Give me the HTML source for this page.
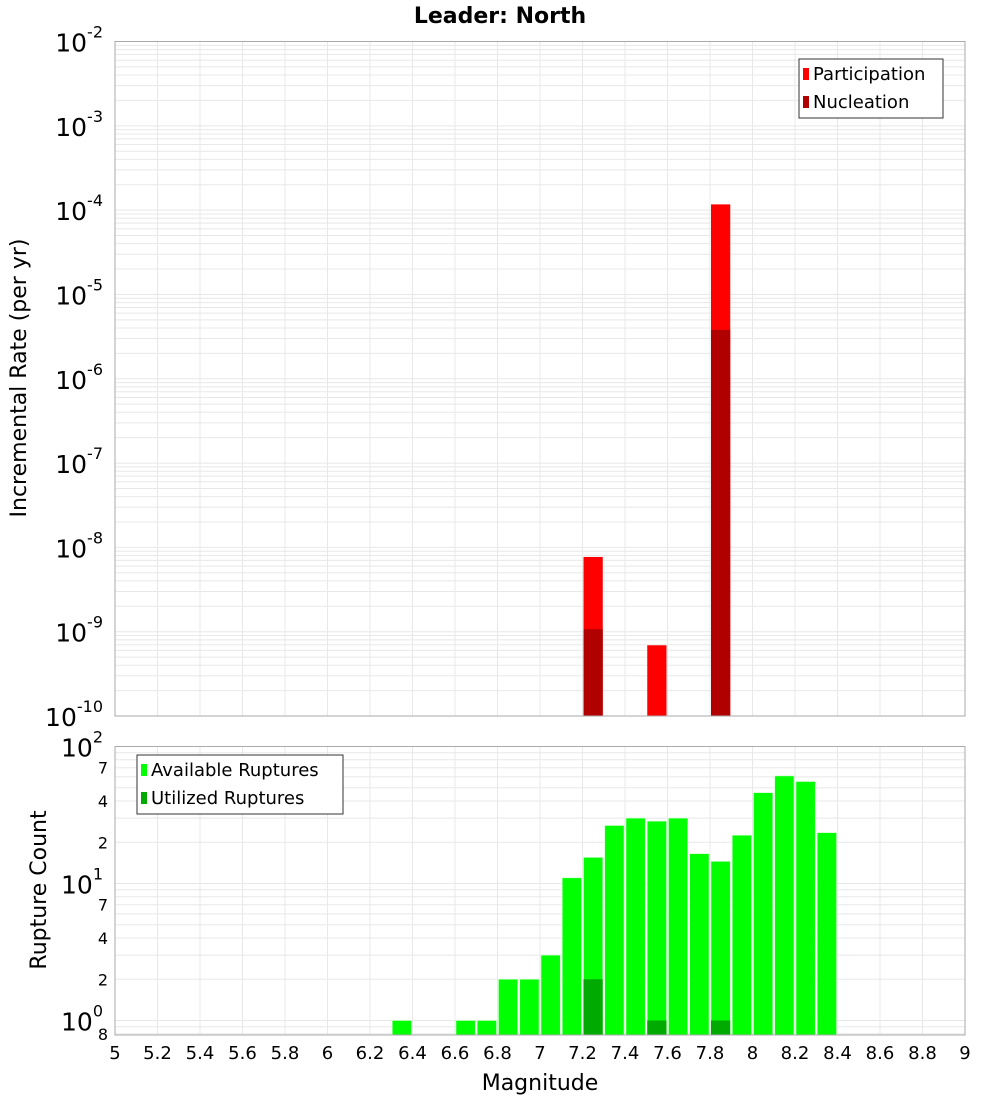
<!DOCTYPE html>
<html><head><meta charset="utf-8"><style>
body{margin:0;background:#fff;}
svg{display:block;font-family:"DejaVu Sans","Liberation Sans",sans-serif;}
</style></head><body>
<svg id="chart" width="1000" height="1100" viewBox="0 0 1000 1100" xmlns="http://www.w3.org/2000/svg">
<text x="500" y="23" text-anchor="middle" font-size="22" font-weight="bold">Leader: North</text>
<g id="topPlot"></g><g id="botPlot"></g>
<text x="540" y="1090" text-anchor="middle" font-size="22">Magnitude</text>
<text transform="translate(26,378) rotate(-90)" text-anchor="middle" font-size="22">Incremental Rate (per yr)</text>
<text transform="translate(46,890) rotate(-90)" text-anchor="middle" font-size="22">Rupture Count</text>
</svg>
<script>
const binStarts=[6.3,6.6,6.7,6.8,6.9,7.0,7.1,7.2,7.3,7.4,7.5,7.6,7.7,7.8,7.9,8.0,8.1,8.2,8.3];
const availCounts=[1,1,1,2,2,3,11,15.5,26.5,30,28.5,30,16.5,14.5,22.5,46,61,55.5,23.5];
const usedStarts=[7.2,7.5,7.8];
const usedCounts=[2,1,1];
const rateStarts=[7.2,7.5,7.8];
const participation=[7.7e-9,6.9e-10,1.17e-4];
const nucleationStarts=[7.2,7.8];
const nucleation=[1.07e-9,3.8e-6];
const xTicks=[5,5.2,5.4,5.6,5.8,6,6.2,6.4,6.6,6.8,7,7.2,7.4,7.6,7.8,8,8.2,8.4,8.6,8.8,9];

const NS="http://www.w3.org/2000/svg";
const X0=115,X1=965;
const x=v=>X0+(v-5)/4*(X1-X0);
const T0=41.5,T1=716;
const yT=v=>T0+(-2-Math.log10(v))/8*(T1-T0);
const B0=746.5,B1=1035;
const BPD=137;
const yB=v=>B0+(2-Math.log10(v))*BPD;
function el(p,tag,a,txt){const e=document.createElementNS(NS,tag);for(const k in a)e.setAttribute(k,a[k]);if(txt!==undefined)e.textContent=txt;p.appendChild(e);return e;}
const topG=document.getElementById('topPlot'),botG=document.getElementById('botPlot');

function vgrid(g,y0,y1){xTicks.forEach(t=>{const l=el(g,'line',{x1:x(t),x2:x(t),y1:y0,y2:y1,stroke:'#e8e8e8'});

});}
vgrid(topG,T0,T1);vgrid(botG,B0,B1);
for(let d=-10;d<-2;d++)for(let m=1;m<10;m++){const v=m*Math.pow(10,d);const l=el(topG,'line',{x1:X0,x2:X1,y1:yT(v),y2:yT(v),stroke:'#e8e8e8'});

}
for(let d=-1;d<2;d++)for(let m=1;m<10;m++){const v=m*Math.pow(10,d);if(yB(v)>B1)continue;const l=el(botG,'line',{x1:X0,x2:X1,y1:yB(v),y2:yB(v),stroke:'#e8e8e8'});

}

rateStarts.forEach((s,i)=>{const r=el(topG,'rect',{x:x(s)+1,width:x(s+0.1)-x(s)-2,y:yT(participation[i]),height:T1-yT(participation[i]),fill:'#ff0000'});

});
nucleationStarts.forEach((s,i)=>{const r=el(topG,'rect',{x:x(s)+1,width:x(s+0.1)-x(s)-2,y:yT(nucleation[i]),height:T1-yT(nucleation[i]),fill:'#b00000'});

});
binStarts.forEach((s,i)=>{const r=el(botG,'rect',{x:x(s)+1,width:x(s+0.1)-x(s)-2,y:yB(availCounts[i]),height:B1-yB(availCounts[i]),fill:'#00ff00',stroke:'#c8ffc8','stroke-width':0.6});

});
usedStarts.forEach((s,i)=>{const r=el(botG,'rect',{x:x(s)+1,width:x(s+0.1)-x(s)-2,y:yB(usedCounts[i]),height:B1-yB(usedCounts[i]),fill:'#00aa00'});

});

const f1=el(topG,'rect',{x:X0,y:T0,width:X1-X0,height:T1-T0,fill:'none',stroke:'#aaa'});


const f2=el(botG,'rect',{x:X0,y:B0,width:X1-X0,height:B1-B0,fill:'none',stroke:'#aaa'});



for(let d=-10;d<=-2;d++){const t=el(topG,'text',{x:103,y:yT(Math.pow(10,d))+10,'text-anchor':'end','font-size':25});


t.textContent='10';el(t,'tspan',{dy:-14,'font-size':16},String(d));}
for(let d=0;d<=2;d++){const t=el(botG,'text',{x:103,y:yB(Math.pow(10,d))+10,'text-anchor':'end','font-size':25});


t.textContent='10';el(t,'tspan',{dy:-14,'font-size':16},String(d));}
[[0.8,'8'],[2,'2'],[4,'4'],[7,'7'],[20,'2'],[40,'4'],[70,'7']].forEach(([v,s])=>{const t=el(botG,'text',{x:108,y:yB(v)+6,'text-anchor':'end','font-size':16},s);

});
xTicks.forEach(v=>{const t=el(botG,'text',{x:x(v),y:1059,'text-anchor':'middle','font-size':18},String(v));

});

function legend(g,lx,ly,w,items,name){const gg=el(g,'g',{});


el(gg,'rect',{x:lx,y:ly,width:w,height:59,fill:'#fff',stroke:'#333'});
items.forEach(([c,s],i)=>{el(gg,'rect',{x:lx+4,y:ly+9+i*28,width:6,height:12,fill:c});el(gg,'text',{x:lx+14,y:ly+21+i*28,'font-size':18},s);});}
legend(topG,799,59,144,[['#ff0000','Participation'],['#b00000','Nucleation']],'top-legend');
legend(botG,137,755,206,[['#00ff00','Available Ruptures'],['#00aa00','Utilized Ruptures']],'bottom-legend');
</script>
</body></html>
